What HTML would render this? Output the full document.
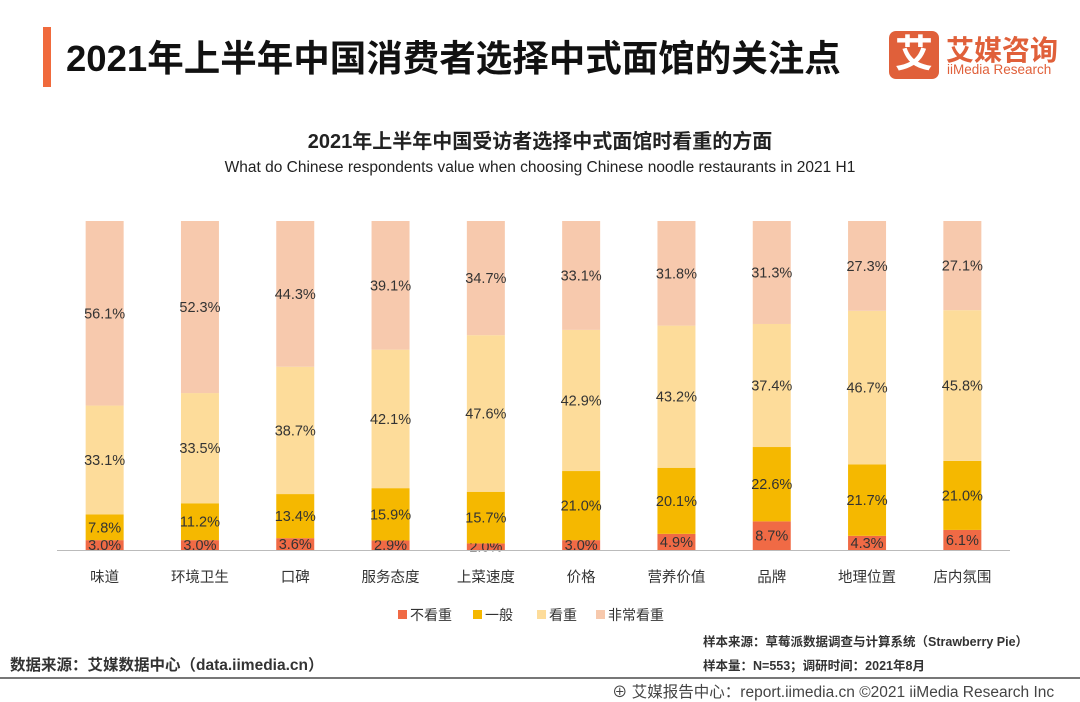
<!DOCTYPE html>
<html><head><meta charset="utf-8"><style>
body{margin:0;width:1080px;height:702px;background:#fff;position:relative;overflow:hidden;font-family:"Liberation Sans","Noto Sans CJK SC",sans-serif;color:#222}
.a{position:absolute;white-space:nowrap}
</style></head><body>
<div class="a" style="left:43px;top:27px;width:8px;height:60px;background:#f06a3c"></div>
<div class="a" style="left:66px;top:29px;font-size:36.5px;font-weight:bold;color:#111">2021年上半年中国消费者选择中式面馆的关注点</div>
<div class="a" style="left:889px;top:31px;width:50px;height:48px;background:#e0603a;border-radius:7px;color:#fff;font-size:38px;font-weight:bold;text-align:center;line-height:48px">艾</div>
<div class="a" style="left:946px;top:29px;font-size:28px;font-weight:bold;color:#e0603a">艾媒咨询</div>
<div class="a" style="left:947px;top:62px;font-size:13.5px;color:#e0603a">iiMedia Research</div>
<div class="a" style="left:0;width:1080px;text-align:center;top:125px;font-size:20px;font-weight:bold">2021年上半年中国受访者选择中式面馆时看重的方面</div>
<div class="a" style="left:0;width:1080px;text-align:center;top:159px;font-size:15.5px">What do Chinese respondents value when choosing Chinese noodle restaurants in 2021 H1</div>
<svg class="a" style="left:0;top:0" width="1080" height="702" id="chart"></svg>
<div class="a" style="left:10px;top:653px;font-size:15.5px;font-weight:bold;color:#333">数据来源：艾媒数据中心（data.iimedia.cn）</div>
<div class="a" style="left:703px;top:631px;font-size:12.5px;font-weight:bold;color:#333">样本来源：草莓派数据调查与计算系统（Strawberry Pie）</div>
<div class="a" style="left:703px;top:655px;font-size:12.5px;font-weight:bold;color:#333">样本量：N=553；调研时间：2021年8月</div>
<div class="a" style="left:0;top:677px;width:1080px;height:2px;background:#777"></div>
<div class="a" style="left:612px;top:680px;font-size:15.5px;color:#444">⊕ 艾媒报告中心：report.iimedia.cn ©2021  iiMedia Research  Inc</div>
<script>
const categories=["味道","环境卫生","口碑","服务态度","上菜速度","价格","营养价值","品牌","地理位置","店内氛围"];
const notImportant=[3.0,3.0,3.6,2.9,2.0,3.0,4.9,8.7,4.3,6.1];
const average=[7.8,11.2,13.4,15.9,15.7,21.0,20.1,22.6,21.7,21.0];
const important=[33.1,33.5,38.7,42.1,47.6,42.9,43.2,37.4,46.7,45.8];
const veryImportant=[56.1,52.3,44.3,39.1,34.7,33.1,31.8,31.3,27.3,27.1];
const seriesNames=["不看重","一般","看重","非常看重"];
const colors=["#f06a45","#f5b800","#fddc9a","#f7c9ad"];
const svg=document.getElementById('chart');const NS="http://www.w3.org/2000/svg";
const y0=550,y1=221,x0=57,x1=1010;
const ys=v=>(y1-y0)*v/100;
const xc=i=>x0+(x1-x0)*(i+0.5)/categories.length;
function mk(t,a){const e=document.createElementNS(NS,t);for(const k in a)e.setAttribute(k,a[k]);svg.appendChild(e);return e;}
const series=[notImportant,average,important,veryImportant];
categories.forEach((c,i)=>{let cum=0;series.forEach((s,j)=>{const v=s[i];const top=y0+ys(cum+v),bot=y0+ys(cum);
const r=mk('rect',{x:xc(i)-19,y:top,width:38,height:bot-top,fill:colors[j]});


const t=mk('text',{x:xc(i),y:(top+bot)/2+5,'text-anchor':'middle','font-size':14.5,fill:'#333'});t.textContent=v.toFixed(1)+'%';


cum+=v;});
const l=mk('text',{x:xc(i),y:582,'text-anchor':'middle','font-size':14.5,fill:'#333'});l.textContent=c;


});
const ax=mk('line',{x1:x0,x2:x1,y1:y0+0.5,y2:y0+0.5,stroke:'#bbb'});


const lx=[398,473,537,596];
seriesNames.forEach((n,j)=>{const r=mk('rect',{x:lx[j],y:610,width:9,height:9,fill:colors[j]});


const t=mk('text',{x:lx[j]+12,y:620,'font-size':14,fill:'#333'});t.textContent=n;

});
</script>
</body></html>
